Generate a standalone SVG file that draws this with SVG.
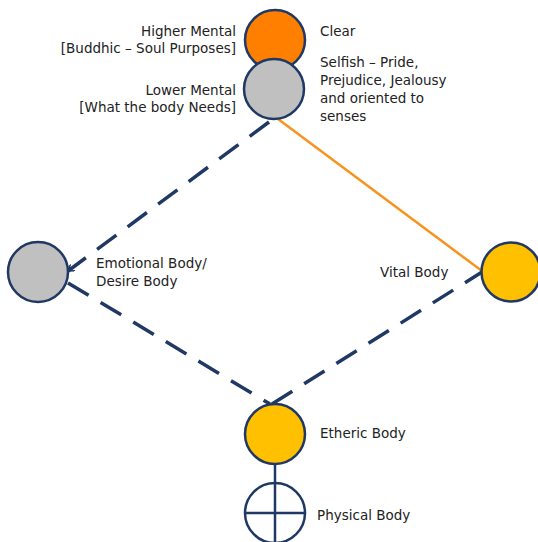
<svg xmlns="http://www.w3.org/2000/svg" width="538" height="542" viewBox="0 0 538 542">
<style>
.c{stroke:#1F3864;stroke-width:2.5}
.t{font-family:"DejaVu Sans",Verdana,sans-serif;font-size:13.5px;fill:#222}
.r{text-anchor:end}
.d{fill:none;stroke:#1F3864;stroke-width:3.5;stroke-dasharray:24 14}
</style>
<defs>
<marker id="ah" markerWidth="8" markerHeight="8" refX="6" refY="4" orient="auto" markerUnits="userSpaceOnUse">
<path d="M0,0 L6,4 L0,8" fill="none" stroke="#1F3864" stroke-width="1.5"/>
</marker>
</defs>
<rect width="538" height="542" fill="#fff"/>
<g id="connectors">
<line x1="278" y1="119" x2="482" y2="271" stroke="#F7931E" stroke-width="2.5"/>
<line class="d" x1="269" y1="122" x2="68" y2="271" marker-end="url(#ah)"/>
<line class="d" x1="68" y1="283" x2="270" y2="404"/>
<line class="d" x1="272" y1="404" x2="482" y2="272"/>
<line x1="275" y1="464" x2="275" y2="542" class="c"/>
</g>
<g id="higher-mental">
<circle cx="275" cy="40" r="30" fill="#FF8000" class="c"/>
<text class="t r" x="236" y="36">Higher Mental</text>
<text class="t r" x="236" y="53">[Buddhic – Soul Purposes]</text>
<text class="t" x="320" y="36">Clear</text>
</g>
<g id="lower-mental">
<circle cx="274" cy="89" r="30" fill="#C0C0C0" class="c"/>
<text class="t r" x="236" y="95">Lower Mental</text>
<text class="t r" x="236" y="112">[What the body Needs]</text>
<text class="t" x="320" y="67">Selfish – Pride,</text>
<text class="t" x="320" y="85">Prejudice, Jealousy</text>
<text class="t" x="320" y="103">and oriented to</text>
<text class="t" x="320" y="121">senses</text>
</g>
<g id="emotional">
<circle cx="38" cy="272" r="30" fill="#C0C0C0" class="c"/>
<text class="t" x="96" y="268">Emotional Body/</text>
<text class="t" x="96" y="286">Desire Body</text>
</g>
<g id="vital">
<circle cx="511" cy="272" r="29.5" fill="#FFC000" class="c"/>
<text class="t" x="380" y="277">Vital Body</text>
</g>
<g id="etheric">
<circle cx="275" cy="434" r="30" fill="#FFC000" class="c"/>
<text class="t" x="320" y="438">Etheric Body</text>
</g>
<g id="physical">
<circle cx="275" cy="513" r="30" fill="none" class="c"/>
<line x1="245" y1="513" x2="305" y2="513" class="c"/>
<text class="t" x="317" y="520">Physical Body</text>
</g>
</svg>
